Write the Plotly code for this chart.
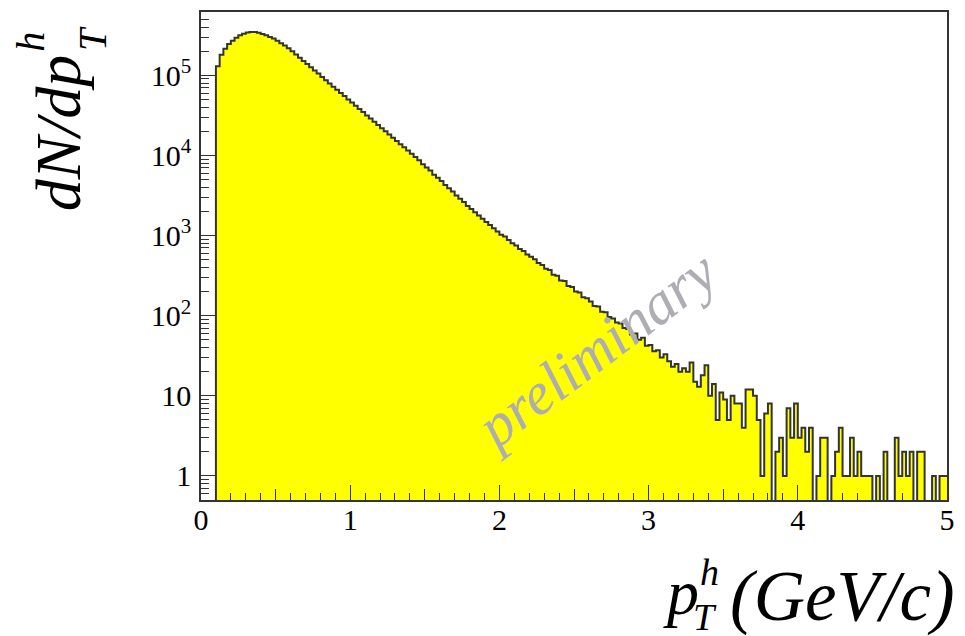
import plotly.graph_objects as go

# ---- data ----
x_lo, x_hi, n_bins = 0.0, 5.0, 200
counts = [
    0, 0, 0, 0,
    130000, 180000, 215000, 245000, 270000, 295000, 315000, 330000, 342000, 347000,
    346000, 340000, 328000, 315000, 300000, 288000, 270000, 252000, 235000, 218000,
    200000, 182000, 166000, 151000, 138000, 126000, 115000, 105000, 95000, 87000,
    79000, 72000, 66000, 60000, 55000, 50000,
    45700, 41700, 38000, 34700, 31600, 28800, 26300, 24000, 21900, 20000,
    18200, 16600, 15100, 13800, 12600, 11500, 10500, 9550, 8710, 7760,
    7080, 6460, 5750, 5250, 4790, 4270, 3890, 3550, 3160, 2880,
    2630, 2340, 2140, 1950, 1780, 1620, 1480, 1350, 1230, 1120,
    1020, 970, 880, 800, 750, 680, 640, 580, 545, 505,
    455, 430, 385, 370, 325, 315, 275, 270, 235, 228,
    200, 195, 170, 165, 150, 132, 130, 112, 110, 96,
    92, 82, 80, 70, 68, 58, 60, 50, 53, 42,
    43, 36, 37, 30, 33, 27, 23, 25, 20, 22,
    20, 26, 15, 13, 18, 24, 10, 14, 5, 11,
    9, 5, 10, 8, 8, 4, 12, 12, 10, 5,
    1, 6, 8, 0, 2, 3, 1, 7, 3, 8,
    3, 4, 2, 4, 0, 1, 3, 3, 0, 1,
    2, 4, 1, 1, 3, 1, 2, 1, 1, 1,
    0, 1, 0, 2, 0, 0, 3, 1, 2, 1,
    2, 0, 2, 2, 0, 0, 1, 0, 1, 1,
]
x_tick_labels = ["0", "1", "2", "3", "4", "5"]
y_tick_vals = [1, 10, 100, 1000, 10000, 100000]
y_tick_text = ["1", "10", "10<sup>2</sup>", "10<sup>3</sup>", "10<sup>4</sup>", "10<sup>5</sup>"]

# ---- derived ----
bw = (x_hi - x_lo) / n_bins
edges = [x_lo + i * bw for i in range(n_bins + 1)]
centers = [x_lo + (i + 0.5) * bw for i in range(n_bins)]
bar_y = [c if c > 0 else None for c in counts]
line_x = edges
line_y = [c if c > 0 else 1e-3 for c in counts] + [counts[-1] if counts[-1] > 0 else 1e-3]

serif = "Liberation Serif, Times New Roman, serif"

fig = go.Figure()
fig.add_trace(go.Bar(x=centers, y=bar_y, width=bw, marker=dict(color="#ffff00", line=dict(width=0)),
                     hoverinfo="skip", showlegend=False))
fig.add_trace(go.Scatter(x=line_x, y=line_y, mode="lines", line=dict(shape="hv", color="#333333", width=2),
                         xaxis="x2", hoverinfo="skip", showlegend=False))

W, H = 965, 636
L, R, T, B = 201, 955, 11, 500


def px(x):
    return (x - L) / (R - L)


def py(y):
    return (B - y) / (B - T)


minor_y = [m * 10 ** e for e in range(-1, 6) for m in range(2, 10) if 0.5 <= m * 10 ** e <= 6.2e5]

fig.update_layout(
    width=W, height=H,
    margin=dict(l=L, r=W - R, t=T, b=H - B),
    paper_bgcolor="white", plot_bgcolor="white",
    bargap=0,
    font=dict(family=serif, color="black"),
    xaxis=dict(
        range=[x_lo, x_hi], showgrid=False, zeroline=False,
        showline=True, linecolor="#333333", linewidth=1.5, mirror=True,
        tickmode="array", tickvals=[i * 0.5 for i in range(11)],
        ticktext=[x_tick_labels[i // 2] if i % 2 == 0 else "" for i in range(11)],
        ticks="inside", ticklen=11, tickwidth=1, tickcolor="#333333",
        minor=dict(dtick=0.1, ticks="inside", ticklen=7, tickwidth=1, tickcolor="#333333"),
        tickfont=dict(family=serif, size=30, color="black"),
        ticklabelstandoff=-8,
    ),
    xaxis2=dict(
        range=[x_lo, x_hi], overlaying="x", side="bottom", showgrid=False, zeroline=False,
        showline=False, tickmode="array", tickvals=[0, 1, 2, 3, 4, 5],
        ticks="inside", ticklen=15, tickwidth=1, tickcolor="#333333", showticklabels=False,
    ),
    yaxis=dict(
        type="log", range=[-0.301, 5.79], showgrid=False, zeroline=False,
        showline=True, linecolor="#333333", linewidth=1.5, mirror=True,
        tickmode="array", tickvals=y_tick_vals, ticktext=y_tick_text,
        ticks="inside", ticklen=15, tickwidth=1, tickcolor="#333333",
        minor=dict(tickmode="array", tickvals=minor_y, ticks="inside", ticklen=8, tickwidth=1,
                   tickcolor="#333333"),
        tickfont=dict(family=serif, size=30, color="black"),
        ticklabelstandoff=2,
    ),
)

ann = [
    # watermark
    dict(text="<i>preliminary</i>", x=px(600), y=py(350), textangle=-37,
         font=dict(family=serif, size=60, color="#adadb3")),
    # x title
    dict(text="<i>(GeV/c)</i>", x=px(965), y=py(597), xanchor="right", yanchor="middle",
         font=dict(family=serif, size=71)),
    dict(text="<i>p</i>", x=px(686), y=py(593), font=dict(family=serif, size=64)),
    dict(text="<i>h</i>", x=px(715), y=py(572), font=dict(family=serif, size=38)),
    dict(text="<i>T</i>", x=px(710), y=py(617), font=dict(family=serif, size=38)),
    # y title
    dict(text="<i>dN/dp</i>", x=px(57), y=py(133), textangle=-90, font=dict(family=serif, size=64)),
    dict(text="<i>h</i>", x=px(29), y=py(41), textangle=-90, font=dict(family=serif, size=40)),
    dict(text="<i>T</i>", x=px(92), y=py(38), textangle=-90, font=dict(family=serif, size=40)),
]
for a in ann:
    a.setdefault("xanchor", "center")
    a.setdefault("yanchor", "middle")
    a.update(xref="paper", yref="paper", showarrow=False)
fig.update_layout(annotations=ann)

fig.write_html("out.html")
